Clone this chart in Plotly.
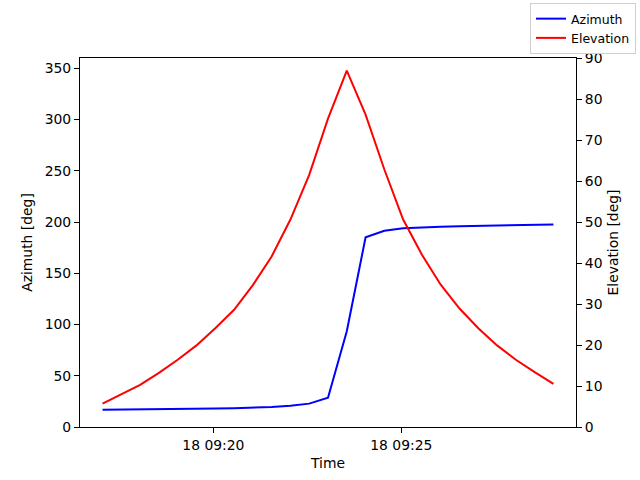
import plotly.graph_objects as go
import pandas as pd

# samples every 30 s
start = pd.Timestamp("2024-03-18 09:17:03")
times = [start + pd.Timedelta(seconds=30 * i) for i in range(25)]

azimuth = [16.9, 17.0, 17.2, 17.4, 17.6, 17.8, 18.1, 18.4, 18.8, 19.5, 20.7, 22.8, 28.5,
           93.5, 185.0, 191.5, 193.8, 194.8, 195.4, 195.9, 196.3, 196.6, 196.9, 197.2, 197.5]
elevation = [5.7, 7.9, 10.3, 13.2, 16.4, 19.9, 24.1, 28.6, 34.6, 41.6, 50.6, 61.5, 75.2,
             86.9, 76.2, 62.8, 50.6, 42.0, 34.7, 28.9, 24.1, 19.9, 16.4, 13.4, 10.5]

fig = go.Figure()
fig.add_trace(go.Scatter(x=times, y=azimuth, name="Azimuth", mode="lines",
                         line=dict(color="blue", width=2)))
fig.add_trace(go.Scatter(x=times, y=elevation, name="Elevation", mode="lines",
                         line=dict(color="red", width=2), yaxis="y2"))

pad = (times[-1] - times[0]) * 0.05
axis_style = dict(showline=True, linecolor="black", linewidth=1.1, ticks="outside",
                  ticklen=5, tickwidth=1.1, tickcolor="black", showgrid=False,
                  zeroline=False, automargin=False,
                  tickfont=dict(size=13.9, color="black"))

fig.update_layout(
    width=640, height=480,
    margin=dict(l=80, r=64, t=58, b=53, autoexpand=False),
    plot_bgcolor="white", paper_bgcolor="white",
    font=dict(family="DejaVu Sans", size=13.9, color="black"),
    xaxis=dict(range=[times[0] - pad, times[-1] + pad], tickformat="%d %H:%M",
               dtick=300000, tick0="2024-03-18 09:20:00", mirror=True,
               title=dict(text="Time", standoff=6, font=dict(size=13.9)), **axis_style),
    yaxis=dict(range=[0, 360], dtick=50,
               title=dict(text="Azimuth [deg]", standoff=8, font=dict(size=13.9)),
               **axis_style),
    yaxis2=dict(range=[0, 90], dtick=10, overlaying="y", side="right",
                title=dict(text="Elevation [deg]", standoff=6, font=dict(size=13.9)),
                **axis_style),
    legend=dict(x=1.121, y=1.149, xanchor="right", yanchor="top",
                bordercolor="#d0d0d0", borderwidth=1, bgcolor="white",
                itemwidth=30, font=dict(size=12.5), tracegroupgap=0),
    showlegend=True,
)

# drop the page's default body margin so the figure sits at the window corner
fig.write_html("out.html", config={"displayModeBar": False},
               post_script="document.body.style.margin='0';")
